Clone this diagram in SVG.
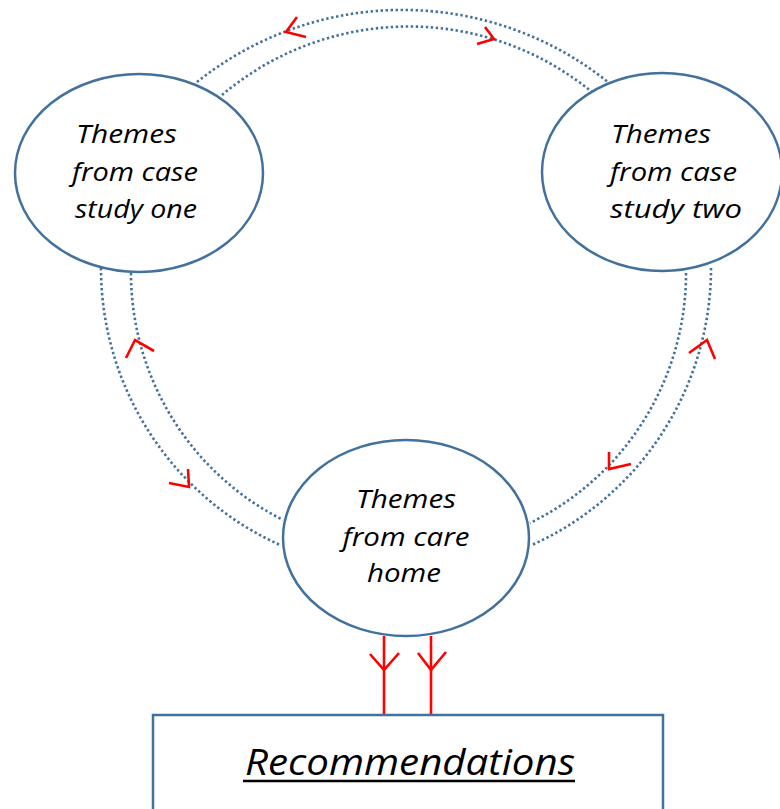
<svg xmlns="http://www.w3.org/2000/svg" width="780" height="809" viewBox="0 0 780 809">
<style>
.node{fill:#fff;stroke:#41719C;stroke-width:2.5}
.dot{fill:none;stroke:#41719C;stroke-width:2.6;stroke-dasharray:2.4 2.6}
.arr{fill:none;stroke:#FF0000;stroke-width:2.6;stroke-linecap:butt;stroke-linejoin:miter}
.lbl{font-family:"Open Sans","Noto Sans","Liberation Sans",sans-serif;font-style:italic;font-size:26px;fill:#000}
.rec{font-family:"Open Sans","Liberation Sans",sans-serif;font-style:italic;font-size:36px;fill:#000}
</style>
<rect width="780" height="809" fill="#fff"/>
<g id="connectors">
  <path class="dot" d="M197,82 A329,329 0 0 1 608,82"/>
  <path class="dot" d="M222,95 A289,289 0 0 1 592,92"/>
  <path class="dot" d="M101,268 A304,304 0 0 0 280,545"/>
  <path class="dot" d="M131,273 A277,277 0 0 0 283,520"/>
  <path class="dot" d="M686,273 A278,278 0 0 1 530,523"/>
  <path class="dot" d="M711,268 A304,304 0 0 1 532,545"/>
  <polyline class="arr" points="297,17 286,32 306,37"/>
  <polyline class="arr" points="485,27 494,39 477,44"/>
  <polyline class="arr" points="126,358 135,340 154,351"/>
  <polyline class="arr" points="188,469 189,487 169,483"/>
  <polyline class="arr" points="609,452 609,469 631,464"/>
  <polyline class="arr" points="689,353 707,340 715,359"/>
  <line class="arr" x1="384" y1="636" x2="384" y2="714"/>
  <line class="arr" x1="431" y1="636" x2="431" y2="714"/>
  <polyline class="arr" points="370,654 384,670 399,653"/>
  <polyline class="arr" points="418,653 431,670 446,652"/>
</g>
<g id="case-one">
  <ellipse class="node" cx="139" cy="173" rx="124" ry="99"/>
  <text class="lbl" x="76" y="143" textLength="101" lengthAdjust="spacingAndGlyphs">Themes</text>
  <text class="lbl" x="72" y="181" textLength="126" lengthAdjust="spacingAndGlyphs">from case</text>
  <text class="lbl" x="75" y="218" textLength="122" lengthAdjust="spacingAndGlyphs">study one</text>
</g>
<g id="case-two">
  <ellipse class="node" cx="662" cy="172" rx="120" ry="99"/>
  <text class="lbl" x="611" y="143" textLength="100" lengthAdjust="spacingAndGlyphs">Themes</text>
  <text class="lbl" x="610" y="181" textLength="127" lengthAdjust="spacingAndGlyphs">from case</text>
  <text class="lbl" x="610" y="218" textLength="132" lengthAdjust="spacingAndGlyphs">study two</text>
</g>
<g id="care-home">
  <ellipse class="node" cx="406" cy="538" rx="123" ry="98"/>
  <text class="lbl" x="406" y="508" text-anchor="middle" textLength="100" lengthAdjust="spacingAndGlyphs">Themes</text>
  <text class="lbl" x="406" y="546" text-anchor="middle" textLength="127" lengthAdjust="spacingAndGlyphs">from care</text>
  <text class="lbl" x="404" y="582" text-anchor="middle" textLength="74" lengthAdjust="spacingAndGlyphs">home</text>
</g>
<g id="recommendations">
  <rect x="153" y="715" width="510" height="110" fill="#fff" stroke="#41719C" stroke-width="2.5"/>
  <text class="rec" x="245" y="775" textLength="330" lengthAdjust="spacingAndGlyphs">Recommendations</text>
  <line x1="243" y1="781" x2="575" y2="781" stroke="#000" stroke-width="2.5"/>
</g>
</svg>
